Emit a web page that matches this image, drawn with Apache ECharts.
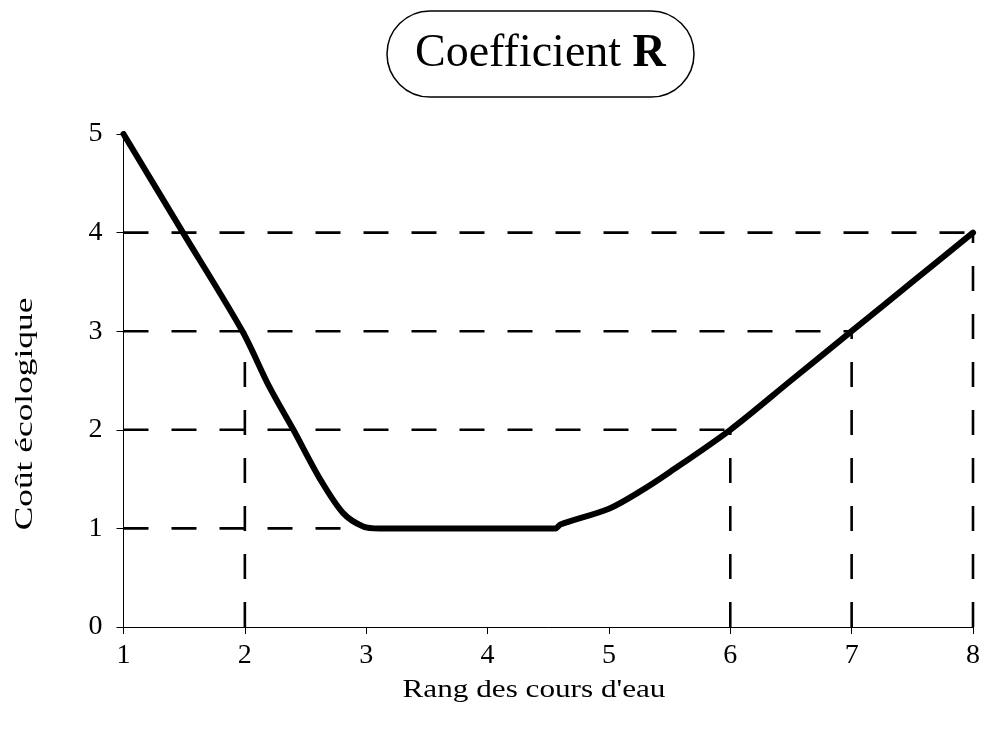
<!DOCTYPE html>
<html>
<head>
<meta charset="utf-8">
<script src="https://cdn.jsdelivr.net/npm/echarts@6/dist/echarts.min.js"></script>
<style>
  html, body { margin: 0; padding: 0; background: #fff; }
  #chart { width: 985px; height: 738px; }
</style>
</head>
<body>
<div id="chart"></div>
<script>
// Ecological cost curve against stream order
const rangX = [1, 1.49, 1.98, 2.2, 2.4, 2.62, 2.81, 2.975, 3.11, 4.56, 4.6, 5.0, 5.25, 5.5, 6.0, 6.5, 7.0, 7.5, 8.0];
const coutY = [5, 4, 3, 2.44, 2, 1.5, 1.155, 1.02, 1.0, 1.0, 1.04, 1.2, 1.37, 1.57, 2.0, 2.5, 3.0, 3.5, 4.0];

// Dashed guide lines: horizontal (from x = 1 to xEnd at level y)
const guideLevels = [4, 3, 2, 1];
const guideEnds = [8, 7, 6, 3];
// Dashed guide lines: vertical (from y = 0 up to yTop at x)
const dropX = [2, 6, 7, 8];
const dropTop = [3, 2, 3, 4];

const xTicks = [1, 2, 3, 4, 5, 6, 7, 8];
const yTicks = [0, 1, 2, 3, 4, 5];

const serif = '"Liberation Serif", "Times New Roman", serif';
const dash = [25, 23];

const series = [];
guideLevels.forEach((lvl, i) => {
  series.push({
    type: 'line', silent: true, symbol: 'none', z: 2,
    data: [[1, lvl], [guideEnds[i], lvl]],
    lineStyle: { color: '#000', width: 2.6, type: dash }
  });
});
dropX.forEach((x, i) => {
  series.push({
    type: 'line', silent: true, symbol: 'none', z: 2,
    data: [[x, 0], [x, dropTop[i]]],
    lineStyle: { color: '#000', width: 2.6, type: dash }
  });
});
series.push({
  type: 'line', symbol: 'none', z: 5,
  smooth: 0.3,
  data: rangX.map((x, i) => [x, coutY[i]]),
  lineStyle: { color: '#000', width: 6, join: 'round', cap: 'round' }
});

const chart = echarts.init(document.getElementById('chart'), null, { renderer: 'canvas' });
chart.setOption({
  backgroundColor: '#fff',
  animation: false,
  title: {
    text: '{a|Coefficient }{b|R}',
    left: 387, top: 10,
    padding: [20, 28],
    borderColor: '#000', borderWidth: 1.5, borderRadius: 44,
    textStyle: {
      fontWeight: 'normal',
      rich: {
        a: { fontFamily: serif, fontSize: 46, fontWeight: 'normal', color: '#000', lineHeight: 48 },
        b: { fontFamily: serif, fontSize: 46, fontWeight: 'bold', color: '#000', lineHeight: 48 }
      }
    }
  },
  grid: { left: 123.5, right: 12, top: 134, bottom: 111, containLabel: false },
  xAxis: {
    type: 'value', min: 1, max: 8, interval: 1,
    axisLine: { lineStyle: { color: '#000', width: 1 } },
    axisTick: { show: true, length: 7, lineStyle: { color: '#000', width: 1 } },
    axisLabel: {
      margin: 15, fontFamily: serif, fontSize: 28, color: '#000',
      formatter: v => xTicks.includes(v) ? String(v) : ''
    },
    splitLine: { show: false }
  },
  yAxis: {
    type: 'value', min: 0, max: 5, interval: 1,
    axisLine: { show: true, lineStyle: { color: '#000', width: 1 } },
    axisTick: { show: true, length: 7, lineStyle: { color: '#000', width: 1 } },
    axisLabel: {
      margin: 21, fontFamily: serif, fontSize: 28, color: '#000',
      formatter: v => yTicks.includes(v) ? String(v) : ''
    },
    splitLine: { show: false }
  },
  graphic: [{
    type: 'text', x: 534, y: 690, scaleX: 1.2,
    style: {
      text: 'Rang des cours d\'eau', fill: '#000',
      font: '26px ' + serif, align: 'center', verticalAlign: 'middle'
    }
  }, {
    type: 'text', x: 25, y: 414, rotation: Math.PI / 2, scaleX: 1.36,
    style: {
      text: 'Coût écologique', fill: '#000',
      font: '26px ' + serif, align: 'center', verticalAlign: 'middle'
    }
  }],
  series: series
});
</script>
</body>
</html>
